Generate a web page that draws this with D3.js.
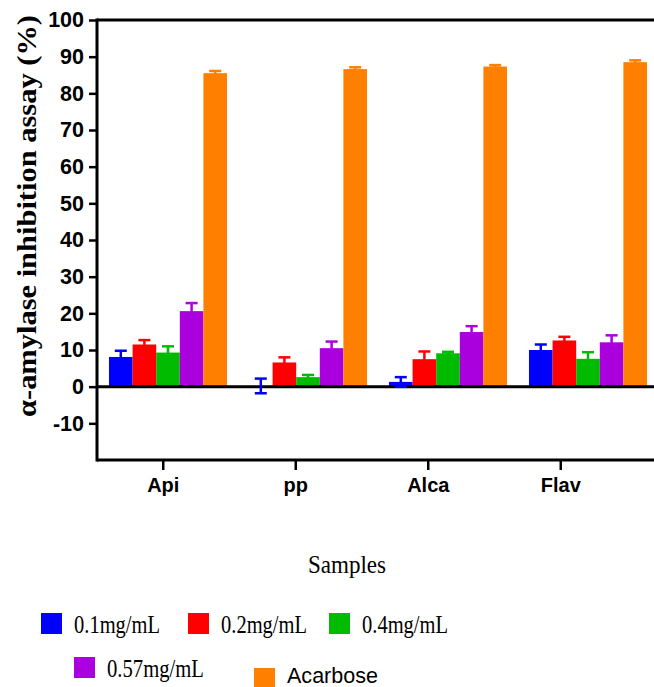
<!DOCTYPE html>
<html>
<head>
<meta charset="utf-8">
<script src="https://cdn.jsdelivr.net/npm/d3@7"></script>
<style>
  body { margin: 0; background: #fff; }
  svg { display: block; }
</style>
</head>
<body>
<div id="vis"></div>
<script>
'use strict';

//data
var samples = ['Api', 'pp', 'Alca', 'Flav'];
var series = ['0.1mg/mL', '0.2mg/mL', '0.4mg/mL', '0.57mg/mL', 'Acarbose'];
var means = [
    [8.1, 11.5, 9.3, 20.6, 85.5],
    [0.2, 6.6, 2.6, 10.5, 86.6],
    [1.3, 7.5, 9.1, 14.9, 87.3],
    [10.0, 12.6, 7.6, 12.1, 88.5]
];
var sds = [
    [1.7, 1.2, 1.7, 2.2, 0.6],
    [2.0, 1.4, 0.6, 1.8, 0.5],
    [1.3, 2.1, 0.4, 1.6, 0.4],
    [1.5, 1.0, 1.8, 1.9, 0.5]
];
var yTicks = [-10, 0, 10, 20, 30, 40, 50, 60, 70, 80, 90, 100];

//vis colors
var colors = ['#0000ff', '#ff0000', '#00bb00', '#aa00dd', '#ff8000'];

//layout
var width = 654, height = 687;
var plot = { left: 97, right: 654, top: 20, bottom: 460 };
var serif = '"Liberation Serif", "Times New Roman", serif';
var sans = '"Liberation Sans", Arial, sans-serif';

var svg = d3.select('#vis')
    .append('svg')
    .attr('width', width)
    .attr('height', height);

var y = d3.scaleLinear().domain([-20, 100]).range([plot.bottom, plot.top]);
//bar groups
var xGroup = d3.scaleBand().domain(samples)
    .range([98, 658])
    .paddingInner(0.157)
    .paddingOuter(0.0785);
var xSub = d3.scaleBand().domain(series).range([0, xGroup.bandwidth()]);
//category labels sit on their own spacing in the original
var xLabel = d3.scaleBand().domain(samples).range([plot.left, 627]);

var rows = [];
samples.forEach(function (s, i) {
    series.forEach(function (k, j) {
        rows.push({ sample: s, key: k, j: j, v: means[i][j], e: sds[i][j] });
    });
});

function barMid(d) {
    return xGroup(d.sample) + xSub(d.key) + xSub.bandwidth() / 2;
}

//bars
svg.append('g').selectAll('rect')
    .data(rows)
    .enter()
    .append('rect')
    .attr('x', function (d) { return xGroup(d.sample) + xSub(d.key); })
    .attr('width', xSub.bandwidth())
    .attr('y', function (d) { return y(Math.max(0, d.v)); })
    .attr('height', function (d) { return Math.abs(y(d.v) - y(0)); })
    .style('fill', function (d) { return colors[d.j]; });

//frame + zero line
var axisStroke = 3;
[plot.top, plot.bottom, y(0)].forEach(function (yy) {
    svg.append('line')
        .attr('x1', plot.left).attr('x2', plot.right)
        .attr('y1', yy).attr('y2', yy)
        .style('stroke', '#000').style('stroke-width', axisStroke);
});

//error bars (both directions)
var capW = 12;
var err = svg.append('g').selectAll('g')
    .data(rows)
    .enter()
    .append('g')
    .style('stroke', function (d) { return colors[d.j]; })
    .style('stroke-width', 2.5);
err.append('line')
    .attr('x1', barMid)
    .attr('x2', barMid)
    .attr('y1', function (d) { return y(d.v - d.e); })
    .attr('y2', function (d) { return y(d.v + d.e); });
[1, -1].forEach(function (sign) {
    err.append('line')
        .attr('x1', function (d) { return barMid(d) - capW / 2; })
        .attr('x2', function (d) { return barMid(d) + capW / 2; })
        .attr('y1', function (d) { return y(d.v + sign * d.e); })
        .attr('y2', function (d) { return y(d.v + sign * d.e); });
});

//y axis
var yAxis = svg.append('g')
    .attr('transform', 'translate(' + plot.left + ',0)')
    .call(d3.axisLeft(y).tickValues(yTicks).tickSize(8).tickPadding(5).tickSizeOuter(0)
        .tickFormat(function (d) { return String(d); }));
yAxis.select('.domain')
    .attr('d', 'M0,' + (plot.top - 1.5) + 'V' + (plot.bottom + 1.5))
    .style('stroke-width', axisStroke);
yAxis.selectAll('.tick line').style('stroke-width', 2.5);
yAxis.selectAll('.tick text')
    .style('font-family', sans)
    .style('font-weight', 'bold')
    .style('font-size', '21.5px')
    .style('fill', '#000');

//x axis labels
var xAxis = svg.append('g')
    .attr('transform', 'translate(0,' + plot.bottom + ')')
    .call(d3.axisBottom(xLabel).tickSize(10).tickPadding(8).tickSizeOuter(0));
xAxis.select('.domain').remove();
xAxis.selectAll('.tick line').style('stroke-width', 2.5);
xAxis.selectAll('.tick text')
    .style('font-family', sans)
    .style('font-weight', 'bold')
    .style('font-size', '20px')
    .style('fill', '#000');

//axis titles (source picture is squeezed sideways, so stretch along text)
svg.append('text')
    .attr('transform', 'translate(36,216) rotate(-90)')
    .attr('text-anchor', 'middle')
    .attr('textLength', 402)
    .attr('lengthAdjust', 'spacingAndGlyphs')
    .style('font-family', serif)
    .style('font-weight', 'bold')
    .style('font-size', '27px')
    .text('\u03b1-amylase inhibition assay (%)');
svg.append('text')
    .attr('x', 347)
    .attr('y', 573)
    .attr('text-anchor', 'middle')
    .attr('textLength', 78)
    .attr('lengthAdjust', 'spacingAndGlyphs')
    .style('font-family', serif)
    .style('font-size', '25px')
    .text('Samples');

//legend
var legendPos = [
    { x: 41, y: 613 }, { x: 188, y: 613 }, { x: 329, y: 613 },
    { x: 74, y: 657 }, { x: 254, y: 668 }
];
var legendLen = [86, 86, 86, 97, 91];
var lg = svg.append('g').selectAll('g')
    .data(series)
    .enter()
    .append('g')
    .attr('transform', function (d, i) { return 'translate(' + legendPos[i].x + ',' + legendPos[i].y + ')'; });
lg.append('rect')
    .attr('width', 21)
    .attr('height', 21)
    .style('fill', function (d, i) { return colors[i]; });
lg.append('text')
    .attr('x', 33)
    .attr('y', function (d, i) { return i === 4 ? 15 : 20; })
    .attr('textLength', function (d, i) { return legendLen[i]; })
    .attr('lengthAdjust', 'spacingAndGlyphs')
    .style('font-family', function (d, i) { return i === 4 ? sans : serif; })
    .style('font-size', function (d, i) { return i === 4 ? '22px' : '26px'; })
    .text(function (d) { return d; });
</script>
</body>
</html>
